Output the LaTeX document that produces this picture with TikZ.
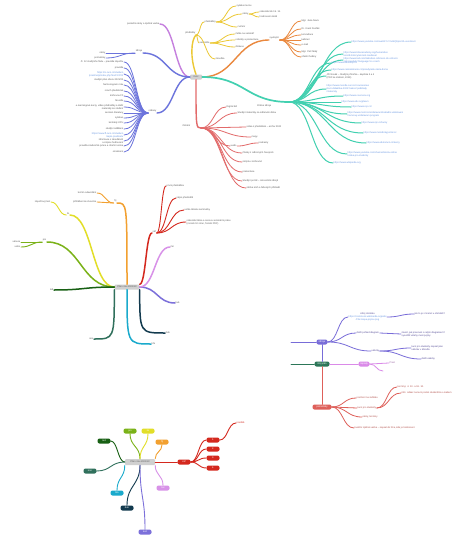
\documentclass[tikz,border=0pt]{standalone}
\usepackage{fontspec}
\setmainfont{Liberation Sans}
\usepackage{xcolor}
\usetikzlibrary{calc, positioning}
% barvy mapy kurzu
\definecolor{cPurple}{RGB}{197,128,222}
\definecolor{cBlue}{RGB}{108,116,220}
\definecolor{cYellow}{RGB}{236,200,52}
\definecolor{cOrange}{RGB}{234,136,62}
\definecolor{cTeal}{RGB}{66,208,176}
\definecolor{cRed}{RGB}{226,106,106}
\definecolor{cLink}{RGB}{104,150,226}
\definecolor{cText}{RGB}{90,90,90}
\definecolor{cRoot}{RGB}{208,208,208}
% barvy mesicu
\definecolor{mOrange}{RGB}{242,160,48}
\definecolor{mYellow}{RGB}{226,222,40}
\definecolor{mLime}{RGB}{122,178,24}
\definecolor{mGreen}{RGB}{24,96,20}
\definecolor{mPine}{RGB}{48,112,92}
\definecolor{mCyan}{RGB}{26,170,204}
\definecolor{mNavy}{RGB}{18,58,78}
\definecolor{mIris}{RGB}{124,112,218}
\definecolor{mViolet}{RGB}{216,146,232}
\definecolor{mRed}{RGB}{212,40,30}
% mala mapa
\definecolor{sGreen}{RGB}{44,118,88}
\definecolor{sPurple}{RGB}{120,108,216}
\definecolor{sPink}{RGB}{218,138,232}
\definecolor{sRed}{RGB}{222,96,90}
\newcommand{\tinyfont}{\fontsize{2.4}{2.9}\selectfont}
\tikzset{
	rootbox/.style={rectangle, rounded corners=1pt, fill=cRoot, text=cText, font=\tinyfont, inner sep=0.8pt, minimum height=5pt},
	lbl/.style={font=\tinyfont, inner sep=0.5pt, text=cText, align=left},
	lblr/.style={lbl, align=right},
	pill/.style={rectangle, rounded corners=2pt, text=white, font=\tinyfont, inner sep=0.8pt, minimum width=13pt, minimum height=5pt},
	brline/.style={line width=1.4pt, line cap=round},
	twline/.style={line width=0.8pt, line cap=round},
	midline/.style={line width=0.9pt, line cap=round},
	% vodorovne esicko
	hs/.style={to path={let \p1=(\tikztostart), \p2=(\tikztotarget) in .. controls ({(\x1+\x2)/2},\y1) and ({(\x1+\x2)/2},\y2) .. (\tikztotarget)}},
	% svisle esicko
	vs/.style={to path={let \p1=(\tikztostart), \p2=(\tikztotarget) in .. controls (\x1,{(\y1+\y2)/2}) and (\x2,{(\y1+\y2)/2}) .. (\tikztotarget)}},
	% nejdriv svisle, pak vodorovne
	vh/.style={to path={let \p1=(\tikztostart), \p2=(\tikztotarget) in .. controls (\x1,\y2) .. (\tikztotarget)}},
}

\begin{document}
\begin{tikzpicture}[x=1pt, y=-1pt]
\fill[white] (0,0) rectangle (474,541);

% ===== mapa kurzu =====
\node[rootbox, minimum width=12pt] (m1) at (196,77) {Kurz};

% fialova
\node[lblr, anchor=east] (pa) at (160,24) {poslední úkoly a zpětná vazba};
\draw[brline, cPurple] (m1.west) to[hs] (pa.east);

% modra
\node[lblr, anchor=south east] (ba) at (143,53) {zdroje};
\draw[brline, cBlue] (m1.west) to[hs] (ba.south east);
\foreach \y/\t [count=\i] in {53/úkoly, 58/poznámky} {
	\node[lblr, anchor=east] (ba\i) at (106,\y) {\t};
	\draw[twline, cBlue] (ba.south west) to[hs] (ba\i.east);
}
\node[lblr, anchor=south east] (bb) at (157,113) {odkazy};
\draw[brline, cBlue] (m1.west) to[hs] (bb.south east);
\foreach \y/\c/\t [count=\i] in {
	62/cText/{čl. 12 studijního řádu -- pravidla zápočtu},
	68/cText/{pravidla},
	74/cLink/{https://is.cuni.cz/studium\\/predmety/index.php?kod=KP21},
	80/cText/{studijní plán oboru 2021/22},
	85/cText/{harmonogram roku},
	91/cText/{rozvrh přednášek},
	96/cText/{knihovna FF},
	101/cText/{Moodle},
	107/cText/{e-learningové kurzy, video přednášky a další\\materiály ke stažení},
	113/cText/{seznam literatury},
	118/cText/{sylabus},
	123/cText/{kontakty KPU},
	129/cText/{studijní oddělení},
	135/cLink/{https://www.ff.cuni.cz/studium\\/zapis-predmetu},
	141/cText/{informace o zkouškách\\a zápisu hodnocení},
	146/cText/{pravidla závěrečné práce a citační norma},
	152/cText/{oznámení}} {
	\node[lblr, anchor=east, text=\c] (bb\i) at (124,\y) {\t};
	\draw[twline, cBlue] (bb.south west) to[hs] (bb\i.east);
}

% zluta
\node[lblr, anchor=south east] (ya) at (196,35) {předměty};
\draw[brline, cYellow] (m1.north) .. controls (190,58) and (191,40) .. (ya.south east);
\node[lbl, anchor=west] (y1) at (204,22) {přednášky};
\node[lbl, anchor=west] (y2) at (199,43) {semináře};
\node[lbl, anchor=west] (y3) at (215,59) {zkouška};
\foreach \nd in {y1,y2,y3}
	\draw[twline, cYellow] (ya.south east) to[hs] (\nd.west);
\foreach \y/\x/\t [count=\i] in {6/236/{sylabus kurzu}, 14/242/{úkoly}, 27/237/{cvičení}} {
	\node[lbl, anchor=west] (y1\i) at (\x,\y) {\t};
	\draw[twline, cYellow] (y1.east) to[hs] (y1\i.west);
}
\foreach \y/\t [count=\i] in {12/{odevzdat do 15. 11.}, 17/{hodnocení úkolů}} {
	\node[lbl, anchor=west] (y12\i) at (259,\y) {\t};
	\draw[twline, cYellow] (y12.east) to[hs] (y12\i.west);
}
\foreach \y/\t [count=\i] in {34/{četba na seminář}, 40/{referáty a prezentace}, 47/{diskuse}} {
	\node[lbl, anchor=west] (y2\i) at (235,\y) {\t};
	\draw[twline, cYellow] (y2.east) to[hs] (y2\i.west);
}

% oranzova
\node[lbl, anchor=south west] (oa) at (269,40) {vyučující};
\draw[brline, cOrange] (m1.east) to[hs] (oa.south west);
\foreach \y/\t [count=\i] in {21/{Mgr. Jana Nová}, 29/{Dr. Karel Dvořák}, 35/{konzultace}, 40/{kabinet}, 45/{e-mail}, 52/{Mgr. Petr Malý}, 57/{úřední hodiny}} {
	\node[lbl, anchor=west] (oa\i) at (301,\y) {\t};
	\draw[twline, cOrange] (oa.south east) to[hs] (oa\i.west);
}

% tyrkysova
\coordinate (tf) at (289,102);
\node[lblr, anchor=north east] (ta) at (272,104) {Online zdroje};
\draw[brline, cTeal, line width=1.7pt] (m1.east) to[hs] (tf);
\foreach \y/\x/\c/\t [count=\i] in {
	42/351/cLink/{https://www.youtube.com/watch?v=Vx3kQ9pLz2A-uvod-kurz},
	54/343/cLink/{https://www.khanacademy.org/humanities\\/world-history/ancient-medieval},
	60/343/cLink/{https://www.ted.com/talks/ken-robinson-do-schools\\-kill-creativity?language=cs-czech},
	63/331/cLink/{https://www.eduskop.cz},
	70/331/cLink/{https://www.ceskatelevize.cz/porady/edu-skola-doma},
	76/326/cText/{Jiří Novák -- Studijní příručka -- kapitola 3 a 4\\(PDF ke stažení, 2019)},
	89/326/cLink/{https://www.moodle.cuni.cz/course/view\\/kurz-didaktika-2021?sekce=podklady\\/materialy},
	96/343/cLink/{https://www.coursera.org},
	102/341/cLink/{https://www.edx.org/learn},
	107/351/cLink/{https://www.rvp.cz/},
	114/347/cLink/{https://www.msmt.cz/vzdelavani/zakladni-vzdelavani\\/ramcovy-vzdelavaci-program},
	123/361/cLink/{https://www.npi.cz/kurzy},
	133/363/cLink/{https://www.metodickyportal.cz},
	143/366/cLink/{https://www.edutorium.cz/kurzy},
	154/347/cLink/{https://www.youtube.com/channel/skola-online\\/videa-pro-studenty},
	163/333/cLink/{https://www.wikipedia.org}} {
	\node[lbl, anchor=west, text=\c] (ta\i) at (\x,\y) {\t};
	\draw[twline, cTeal, line width=1pt] (tf) to[hs] (ta\i.west);
}

% cervena
\coordinate (rf) at (201,128);
\node[lblr, anchor=east] (ra) at (191,126) {Ostatní};
\draw[brline, cRed] (m1.south) to[vh] (rf);
\foreach \y/\x/\t [count=\i] in {
	107/226/{Digital Ed},
	113/237/{Studijní materiály na sdíleném disku},
	127/246/{videa z přednášek -- archiv 2020},
	137/251/{mapy},
	146/230/{audio},
	153/242/{články z odborných časopisů},
	162/242/{skripta v knihovně},
	172/242/{prezentace},
	181/242/{Studijní portál -- rozcestník zdrojů},
	188/246/{sbírka úloh a řešených příkladů}} {
	\node[lbl, anchor=west] (ra\i) at (\x,\y) {\t};
	\draw[twline, cRed] (rf) to[hs] (ra\i.west);
}
\node[lbl, anchor=west] (ra51) at (258,143) {podcasty};
\draw[twline, cRed] (ra5.east) to[hs] (ra51.west);

% ===== plan roku =====
\begin{scope}[brline/.style={line width=1.5pt, line cap=round}, twline/.style={line width=0.9pt, line cap=round}]
\node[rootbox, minimum width=25pt] (m2) at (127,287) {Plán roku 2021/22};
% rijen
\node[lbl, anchor=south east] (mo) at (117,203) {říj};
\draw[brline, mOrange] (m2.north) to[vh] (mo.south east);
\node[lblr, anchor=east] (mo1) at (97,193) {termín odevzdání};
\node[lblr, anchor=east] (mo2) at (97,202) {přihlášení ke zkoušce};
\foreach \nd in {mo1,mo2}
	\draw[twline, mOrange] (mo.south west) to[hs] (\nd.east);
% listopad
\node[lbl, anchor=south east] (my) at (70,215) {lis};
\draw[brline, mYellow] (m2.west) to[hs] (my.south east);
\node[lblr, anchor=east] (my1) at (51,202) {zápočtový test};
\draw[twline, mYellow] (my.south west) to[hs] (my1.east);
% prosinec
\node[lbl, anchor=south east] (ml) at (47,242) {pro};
\draw[brline, mLime] (m2.west) to[hs] (ml.south east);
\node[lblr, anchor=east] (ml1) at (21,242) {vánoce};
\node[lblr, anchor=east] (ml2) at (21,247) {volno};
\foreach \nd in {ml1,ml2}
	\draw[twline, mLime] (ml.south west) to[hs] (\nd.east);
% dalsi mesice
\node[lblr, anchor=east] (mg) at (54,290) {led};
\draw[brline, mGreen] (m2.west) to[hs] (mg.east);
\node[lblr, anchor=east] (mp) at (94,339) {úno};
\draw[brline, mPine] (m2.south west) to[vh] (mp.east);
\node[lbl, anchor=west] (mc) at (151,344) {bře};
\draw[brline, mCyan] (m2.south) to[vh] (mc.west);
\node[lbl, anchor=west] (mn) at (165,333) {dub};
\draw[brline, mNavy] (m2.south east) to[vh] (mn.west);
\node[lbl, anchor=west] (mi) at (175,303) {kvě};
\draw[brline, mIris] (m2.east) to[hs] (mi.west);
\node[lbl, anchor=west] (mv) at (170,247) {čer};
\draw[brline, mViolet] (m2.east) to[hs] (mv.west);
% zari
\node[lbl, anchor=south west] (mr) at (152,233) {zář};
\draw[brline, mRed] (m2.north east) to[hs] (mr.south west);
\foreach \y/\x/\t [count=\i] in {186/166/{první přednáška}, 198/176/{zápis předmětů}, 210/184/{volba tématu seminárky}, 222/186/{odevzdat téma a osnovu seminární práce\\(rozsah 10 stran, formát PDF)}} {
	\node[lbl, anchor=west] (mr\i) at (\x,\y) {\t};
	\draw[twline, mRed] (mr.south east) to[hs] (mr\i.west);
}
\end{scope}

% ===== mala mapa =====
\node[pill, fill=sGreen, minimum width=15pt] (s0) at (322,364) {můj plán};
\node[pill, fill=sPurple, minimum width=11pt] (s1) at (322,342) {zdroje};
\node[pill, fill=sPink, minimum width=11pt] (s2) at (364,364) {nápady};
\node[pill, fill=sRed, minimum width=19pt] (s3) at (322,407) {poznámky};
\coordinate (s1in) at (291,342);
\coordinate (s0in) at (291,364);
\draw[midline, sPurple] (s1in) -- (s1.west);
\draw[midline, sGreen] (s0in) -- (s0.west);
\draw[midline, sPurple] (s1.south) -- (s0.north);
\draw[midline, sRed] (s0.south) -- (s3.north);
\draw[midline, sPink] (s0.east) -- (s2.west);
% zdroje
\begin{scope}[lbl/.append style={text=sPurple!70!black}]
\node[lbl, anchor=west, align=center] (s1a) at (348,317) {zdroj obrázku\\\textcolor{cLink}{https://commons.wikimedia.org/wiki}\\\textcolor{cLink}{/File:mapa-pojmu.png}};
\node[lbl, anchor=west] (s1a1) at (414,314) {jak to je s licencí u obrázků?};
\node[lbl, anchor=west] (s1b) at (356,333) {další pohled diagram};
\node[lbl, anchor=west] (s1b1) at (401,334) {zkusit, jak pracovat s celým diagramem?\\vysvětlit vztahy mezi pojmy};
\node[lbl, anchor=west] (s1c) at (371,351) {ukázky};
\node[lbl, anchor=west] (s1c1) at (411,348) {kurz pro studenty napsat jako\\ukázku v Moodlu};
\node[lbl, anchor=west] (s1c2) at (421,359) {další ukázky};
\end{scope}
\foreach \nd in {s1a,s1b,s1c}
	\draw[twline, sPurple] (s1.east) to[hs] (\nd.west);
\draw[twline, sPurple] (s1a.east) to[hs] (s1a1.west);
\draw[twline, sPurple] (s1b.east) to[hs] (s1b1.west);
\draw[twline, sPurple] (s1c.east) to[hs] (s1c1.west);
\draw[twline, sPurple] (s1c.east) to[hs] (s1c2.west);
% napady
\node[lbl, anchor=west, text=sPink!70!black] (s2a) at (389,363) {Prezi};
\coordinate (s2b) at (383,371);
\draw[twline, sPink] (s2.east) -- (s2a.west);
\draw[twline, sPink] (s2.east) to[hs] (s2b);
% poznamky
\begin{scope}[lbl/.append style={text=sRed!80!black}]
\foreach \y/\x/\t [count=\i] in {398/356/{pozitivní na začátku}, 408/357/{kurz pro studenty}, 417/362/{úkoly, termíny}, 428/354/{kvalitní zpětná vazba -- napsat do fóra, kde je hodnocení}} {
	\node[lbl, anchor=west] (s3\i) at (\x,\y) {\t};
	\draw[twline, sRed] (s3.east) to[hs] (s3\i.west);
}
\node[lbl, anchor=west] (s321) at (397,387) {termíny: 4. 10. a 18. 10.};
\node[lbl, anchor=west] (s322) at (401,393) {info: odkaz na kurz poslat studentům e-mailem};
\end{scope}
\draw[twline, sRed] (s32.east) to[hs] (s321.west);
\draw[twline, sRed] (s32.east) to[hs] (s322.west);

% ===== plan roku, uzly =====
\node[rootbox, minimum width=30pt, minimum height=6pt] (m4) at (140,462) {Plán roku 2021/22};
\foreach \nd/\x/\y/\clr/\lab in {k1/104/441/mGreen/led, k2/130/431/mLime/pro, k3/148/431/mYellow/lis, k4/162/442/mOrange/říj, k5/184/462/mRed/zář, k6/163/488/mViolet/čer, k7/127/508/mNavy/dub, k8/117/493/mCyan/bře, k9/90/471/mPine/úno, k10/145/532/mIris/kvě}
	\node[pill, fill=\clr] (\nd) at (\x,\y) {\lab};
\draw[midline, mGreen] (m4.west) to[hs] (k1.east);
\draw[midline, mLime] (m4.north) to[vs] (k2.south);
\draw[midline, mYellow] (m4.north) to[vs] (k3.south);
\draw[midline, mOrange] (m4.north east) to[vs] (k4.south);
\draw[midline, mRed] (m4.east) -- (k5.west);
\draw[midline, mViolet] (m4.south east) to[vs] (k6.north);
\draw[midline, mNavy] (m4.south) to[vs] (k7.north);
\draw[midline, mCyan] (m4.south west) to[vs] (k8.north);
\draw[midline, mPine] (m4.west) to[hs] (k9.east);
\draw[midline, mIris] (m4.south) to[vs] (k10.north);
\foreach \y [count=\i] in {440,449,458,468} {
	\node[pill, fill=mRed] (kr\i) at (213,\y) {\i.};
	\draw[midline, mRed] (k5.east) to[hs] (kr\i.west);
}
\node[lbl, anchor=west, text=mRed] (kp) at (236,423) {pozdně};
\draw[midline, mRed] (kr1.east) to[hs] (kp.west);

\end{tikzpicture}
\end{document}
